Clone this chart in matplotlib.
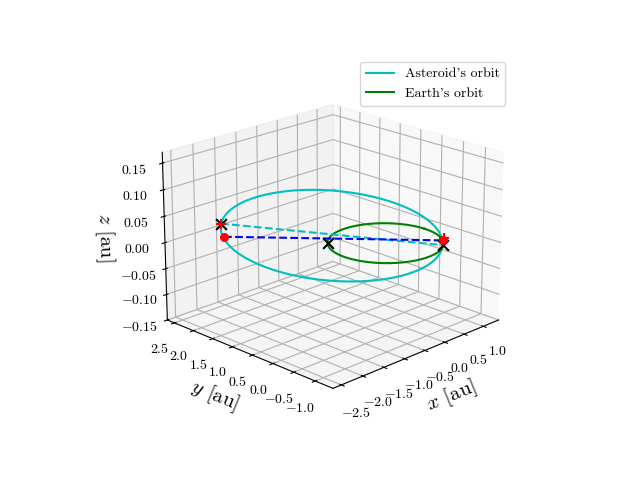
import numpy as np
import matplotlib
matplotlib.use("Agg")
import matplotlib.pyplot as plt

plt.rcParams["font.family"] = "serif"
plt.rcParams["font.serif"] = ["cmr10"]
plt.rcParams["mathtext.fontset"] = "cm"
plt.rcParams["axes.formatter.use_mathtext"] = True

# asteroid orbit: ellipse centre / semi-axes in rotated frame (u along (1,-1), v along (1,1))
ast_center_u = -0.925
ast_center_v = 0.3
ast_semi_u = 1.925
ast_semi_v = 2.3
ast_z_slope = -0.008
earth_r = 1.0

# marked points (x, y, z)
cross_x = [-1.80, -0.707, 0.707]
cross_y = [2.23, 0.707, -0.707]
cross_z = [0.025, 0.0, -0.005]
red_dot_x = [-1.77, 0.71]
red_dot_y = [2.19, -0.70]
red_dot_z = [0.0, 0.004]
plus_x = [-1.80, 0.72]
plus_y = [2.23, -0.70]
plus_z = [0.025, 0.008]

t = np.linspace(0, 2*np.pi, 400)
u = ast_center_u + ast_semi_u*np.cos(t)
v = ast_center_v + ast_semi_v*np.sin(t)
s = np.sqrt(0.5)
ax_ = s*(u + v)
ay_ = s*(-u + v)
az_ = ast_z_slope*u
ex = earth_r*np.cos(t); ey = earth_r*np.sin(t)

fig = plt.figure(figsize=(6.4, 4.8), dpi=100)
ax = fig.add_subplot(projection="3d")
ax.plot(ax_, ay_, az_, color="c", label="Asteroid's orbit")
ax.plot(ex, ey, 0*ex, color="g", label="Earth's orbit")
ax.plot([cross_x[0], cross_x[2]], [cross_y[0], cross_y[2]], [cross_z[0], cross_z[2]], "c--")
ax.plot([red_dot_x[0], red_dot_x[1]], [red_dot_y[0], red_dot_y[1]], [red_dot_z[0], red_dot_z[1]], "b--")
ax.scatter(red_dot_x, red_dot_y, red_dot_z, color="r", s=30, depthshade=False)
ax.scatter(plus_x, plus_y, plus_z, color="r", marker="+", s=60, depthshade=False)
ax.scatter(cross_x, cross_y, cross_z, color="k", marker="x", s=60, depthshade=False)
ax.set_xlim(-2.69, 1.41)
ax.set_ylim(-1.41, 2.69)
ax.set_zlim(-0.15, 0.17)
ax.set_xticks([-2.5, -2.0, -1.5, -1.0, -0.5, 0.0, 0.5, 1.0])
ax.set_yticks([-1.0, -0.5, 0.0, 0.5, 1.0, 1.5, 2.0, 2.5])
ax.set_zticks([-0.15, -0.10, -0.05, 0.0, 0.05, 0.10, 0.15])
ax.set_xlabel(r"$x$ [au]", fontsize=15)
ax.set_ylabel(r"$y$ [au]", fontsize=15)
ax.set_zlabel(r"$z$ [au]", fontsize=15)
ax.view_init(elev=20, azim=-135)
fig.legend(loc="upper right", bbox_to_anchor=(0.80, 0.885), fontsize=10)
fig.savefig("out.png")
